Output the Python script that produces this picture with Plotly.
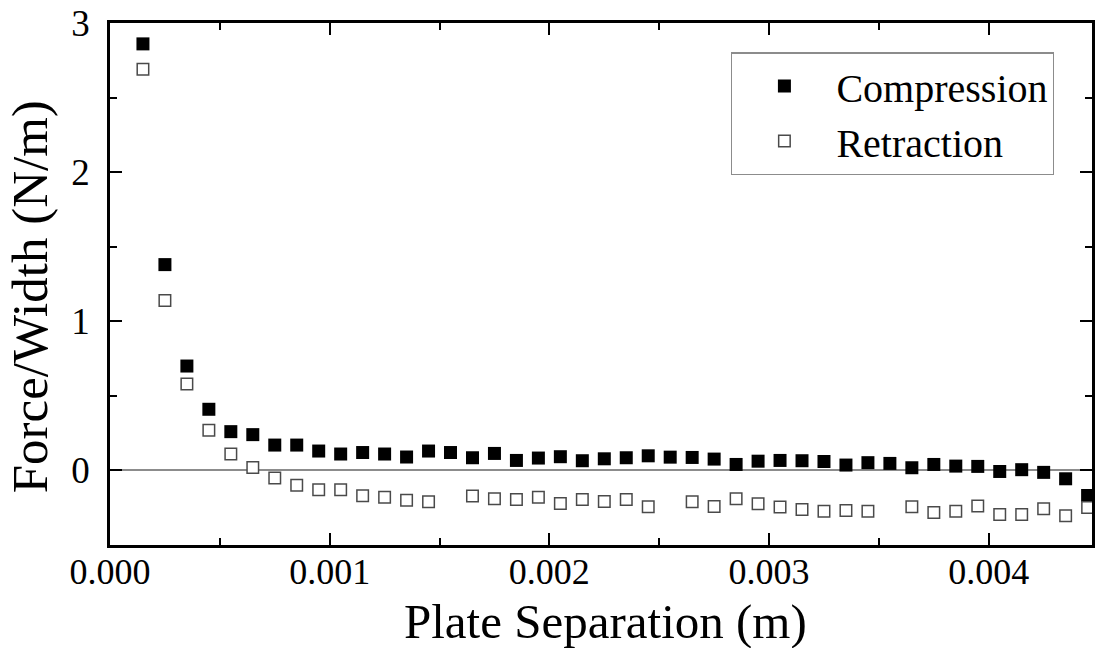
import plotly.graph_objects as go

separation = [0.00015, 0.00025, 0.00035, 0.00045, 0.00055, 0.00065, 0.00075, 0.00085,
              0.00095, 0.00105, 0.00115, 0.00125, 0.00135, 0.00145, 0.00155, 0.00165,
              0.00175, 0.00185, 0.00195, 0.00205, 0.00215, 0.00225, 0.00235, 0.00245,
              0.00255, 0.00265, 0.00275, 0.00285, 0.00295, 0.00305, 0.00315, 0.00325,
              0.00335, 0.00345, 0.00355, 0.00365, 0.00375, 0.00385, 0.00395, 0.00405,
              0.00415, 0.00425, 0.00435, 0.00445]

compression = [2.86, 1.38, 0.70, 0.41, 0.26, 0.24, 0.17, 0.17,
               0.13, 0.11, 0.12, 0.11, 0.09, 0.13, 0.12, 0.085,
               0.114, 0.067, 0.083, 0.092, 0.065, 0.078, 0.085, 0.098,
               0.089, 0.087, 0.076, 0.040, 0.062, 0.067, 0.065, 0.060,
               0.036, 0.052, 0.047, 0.018, 0.040, 0.029, 0.027, -0.007,
               0.005, -0.013, -0.056, -0.168]

retraction = [2.69, 1.14, 0.58, 0.27, 0.11, 0.02, -0.05, -0.10,
              -0.13, -0.13, -0.17, -0.18, -0.20, -0.21, None, -0.172,
              -0.19, -0.195, -0.179, -0.221, -0.195, -0.208, -0.195, -0.244,
              None, -0.21, -0.242, -0.19, -0.224, -0.246, -0.262, -0.273,
              -0.268, -0.273, None, -0.244, -0.282, -0.273, -0.239, -0.295,
              -0.295, -0.257, -0.304, -0.248]

x_ticks = [0.000, 0.001, 0.002, 0.003, 0.004]
x_tick_labels = ["0.000", "0.001", "0.002", "0.003", "0.004"]
y_ticks = [0, 1, 2, 3]
y_tick_labels = ["0", "1", "2", "3"]

x_title = "Plate Separation (m)"
y_title = "Force/Width (N/m)"

FONT = "Liberation Serif, Times New Roman, serif"

fig = go.Figure()
fig.add_trace(go.Scatter(
    x=separation, y=compression, mode="markers", name="Compression",
    marker=dict(symbol="square", size=13, color="black", line=dict(width=0)),
))
fig.add_trace(go.Scatter(
    x=separation, y=retraction, mode="markers", name="Retraction",
    marker=dict(symbol="square", size=11.5, color="white",
                line=dict(color="#4a4a4a", width=1.5)),
))

axis_common = dict(
    showline=True, linecolor="black", linewidth=2.5, mirror="ticks",
    ticks="inside", ticklen=12, tickwidth=2, tickcolor="black",
    showgrid=False,
)

fig.update_xaxes(
    **axis_common,
    tickfont=dict(family=FONT, size=36, color="black"),
    ticklabelstandoff=-7,
    range=[0, 0.00447],
    tickvals=x_ticks, ticktext=x_tick_labels,
    minor=dict(ticks="inside", ticklen=7, tickwidth=2, tickcolor="black",
               dtick=0.0005, tick0=0, showgrid=False),
    zeroline=False,
)
fig.update_yaxes(
    **axis_common,
    tickfont=dict(family=FONT, size=37, color="black"),
    range=[-0.5, 3.0],
    tickvals=y_ticks, ticktext=y_tick_labels,
    ticklabelstandoff=10,
    minor=dict(ticks="inside", ticklen=7, tickwidth=2, tickcolor="black",
               dtick=0.5, tick0=0, showgrid=False),
    zeroline=True, zerolinecolor="#8c8c8c", zerolinewidth=2,
)

fig.add_annotation(
    text=x_title, xref="paper", yref="paper", x=0.5046, y=-0.1465,
    xanchor="center", yanchor="middle", showarrow=False,
    font=dict(family=FONT, size=49, color="black"),
)
fig.add_annotation(
    text=y_title, xref="paper", yref="paper", x=-0.0812, y=0.4751,
    xanchor="center", yanchor="middle", showarrow=False, textangle=-90,
    font=dict(family=FONT, size=51, color="black"),
)

fig.update_layout(
    width=1095, height=648,
    margin=dict(l=110, r=0, t=23, b=103),
    paper_bgcolor="white", plot_bgcolor="white",
    font=dict(family=FONT, color="black"),
    showlegend=True,
    legend=dict(
        x=0.6325, y=0.944, xanchor="left", yanchor="top",
        bgcolor="white", bordercolor="#8c8c8c", borderwidth=1.3,
        font=dict(family=FONT, size=40, color="black"),
        itemwidth=94, tracegroupgap=0,
    ),
)

fig.write_html("out.html")
